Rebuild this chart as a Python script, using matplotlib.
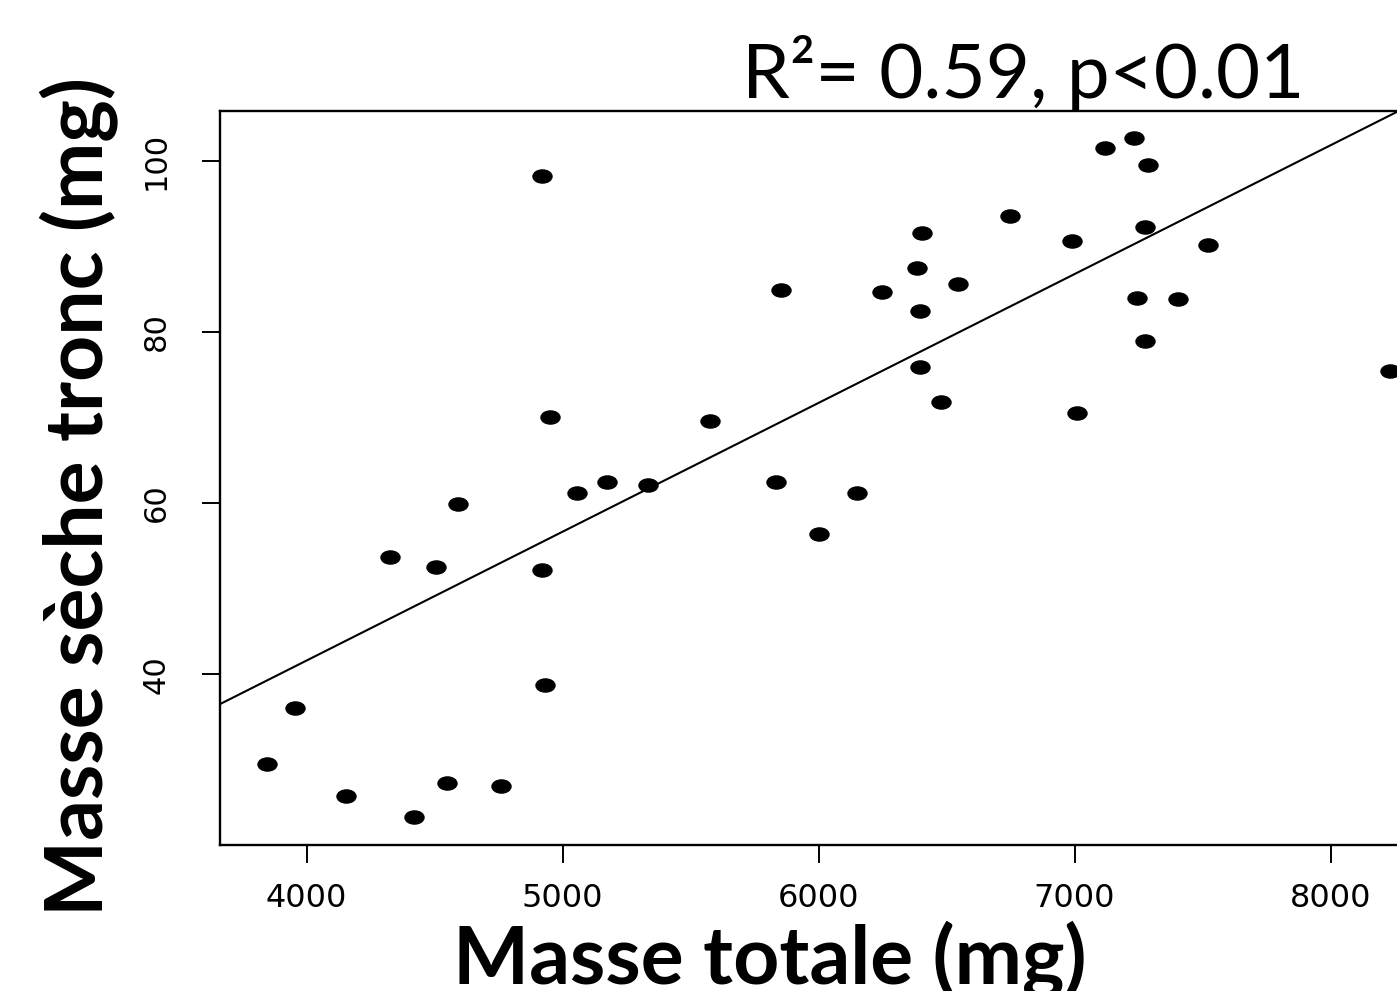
import numpy as np
import matplotlib
matplotlib.use("Agg")
import matplotlib.pyplot as plt
from matplotlib.path import Path
from matplotlib.markers import MarkerStyle
from matplotlib.transforms import Affine2D

# données
masse_totale = [3846, 3954, 4154, 4325, 4419, 4505, 4547, 4591, 4759, 4919,
                 4919, 4931, 4950, 5057, 5173, 5332, 5577, 5832, 5853, 6001,
                 6151, 6246, 6384, 6396, 6395, 6405, 6480, 6544, 6747, 6989,
                 7010, 7118, 7234, 7243, 7277, 7277, 7287, 7405, 7521, 8232]
masse_tronc = [29.5, 36.1, 25.8, 53.7, 23.3, 52.5, 27.3, 59.9, 26.9, 98.2,
               52.2, 38.8, 70.1, 61.2, 62.5, 62.1, 69.6, 62.5, 84.9, 56.4,
               61.2, 84.7, 87.5, 82.4, 75.9, 91.6, 71.8, 85.6, 93.5, 90.6,
               70.5, 101.5, 102.6, 84.0, 92.2, 78.9, 99.5, 83.8, 90.2, 75.4]

# droite de régression telle que tracée sur la figure (abline)
pente = 0.01505
ordonnee = -18.6

x_ticks = [4000, 5000, 6000, 7000, 8000]
y_ticks = [40, 60, 80, 100]
stats_text = "R\u00b2= 0.59, p<0.01"

W, H = 1397, 991
fig = plt.figure(figsize=(W/100, H/100), dpi=100)
ax = fig.add_axes([219.5/W, 1-844.6/H, 1218.6/W, 733.6/H])

# points en ellipse (figure étirée horizontalement)
ellipse = Path.unit_circle().transformed(Affine2D().scale(1.45, 1.0))
ax.plot(masse_totale, masse_tronc, linestyle="none",
        marker=MarkerStyle(ellipse), markersize=13.7, color="black")

ax.axline((0, ordonnee), slope=pente, color="black", linewidth=1.5)

ax.set_xlim(3660, 8420)
ax.set_ylim(20.1, 105.8)

for s in ax.spines.values():
    s.set_linewidth(1.7)
    s.set_color("black")

ax.set_xticks(x_ticks)
ax.set_xticklabels([str(v) for v in x_ticks], fontfamily="DejaVu Sans", fontsize=23)
ax.set_yticks(y_ticks)
ax.set_yticklabels([str(v) for v in y_ticks], fontfamily="DejaVu Sans", fontsize=22,
                   rotation=90, va="center")
ax.tick_params(axis="x", length=13, width=1.4, pad=15)
ax.tick_params(axis="y", length=13, width=1.4, pad=22)

fig.text(742/W, 1-98/H, stats_text, fontfamily="Lato", fontsize=55,
         ha="left", va="baseline")
fig.text(770/W, 1-983/H, "Masse totale (mg)", fontfamily="Lato",
         fontweight="bold", fontsize=58, ha="center", va="baseline")
fig.text(102/W, 1-496/H, "Masse s\u00e8che tronc (mg)", fontfamily="Lato",
         fontweight="bold", fontsize=58, rotation=90, rotation_mode="anchor",
         ha="center", va="baseline")

fig.savefig("out.png", dpi=100)
